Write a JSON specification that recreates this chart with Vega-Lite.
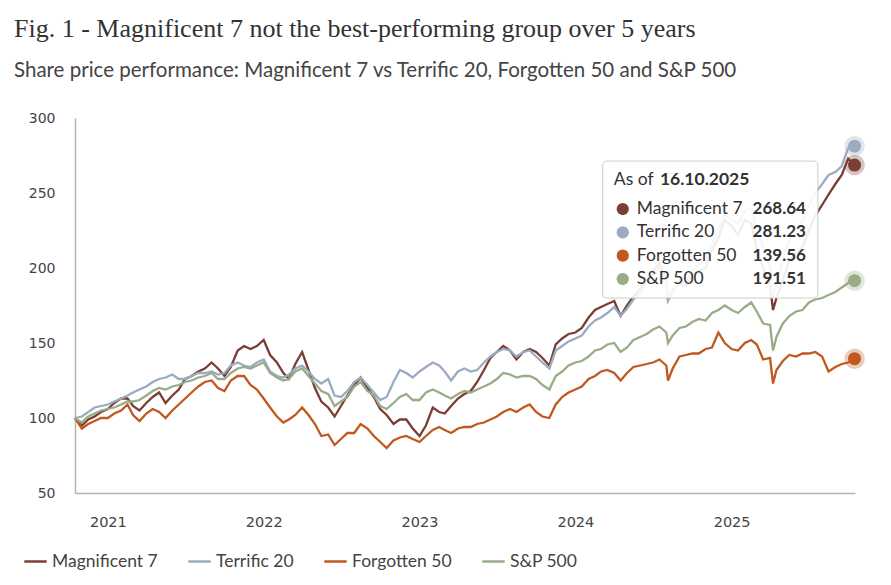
{
  "$schema": "https://vega.github.io/schema/vega-lite/v6.json",
  "width": 780,
  "height": 375,
  "autosize": {"type": "none"},
  "padding": {"left": 75, "top": 118, "right": 36, "bottom": 92},
  "background": "white",
  "config": {"view": {"stroke": null}},
  "title": {
    "text": "Fig. 1 - Magnificent 7 not the best-performing group over 5 years",
    "subtitle": "Share price performance: Magnificent 7 vs Terrific 20, Forgotten 50 and S&P 500",
    "anchor": "start",
    "frame": "group",
    "dx": -61,
    "offset": 30,
    "font": "Liberation Serif",
    "fontSize": 26,
    "fontWeight": "normal",
    "color": "#333333",
    "subtitleFont": "Lato",
    "subtitleFontSize": 20.5,
    "subtitleColor": "#444444",
    "subtitlePadding": 19
  },
  "datasets": {
    "series": [
      {"d":"2020-10-16","m":100,"t":100,"f":100,"s":100},
      {"d":"2020-11-01","m":95,"t":101,"f":93,"s":97},
      {"d":"2020-11-16","m":99,"t":104,"f":96,"s":101},
      {"d":"2020-12-01","m":101,"t":107,"f":98,"s":103},
      {"d":"2020-12-16","m":104,"t":108,"f":100,"s":105},
      {"d":"2021-01-01","m":106,"t":109,"f":100,"s":106},
      {"d":"2021-01-16","m":110,"t":111,"f":103,"s":107},
      {"d":"2021-02-01","m":113,"t":113,"f":105,"s":109},
      {"d":"2021-02-16","m":113,"t":115,"f":109,"s":111},
      {"d":"2021-03-01","m":108,"t":117,"f":102,"s":111},
      {"d":"2021-03-16","m":105,"t":119,"f":98,"s":112},
      {"d":"2021-04-01","m":110,"t":121,"f":103,"s":115},
      {"d":"2021-04-16","m":114,"t":124,"f":106,"s":118},
      {"d":"2021-05-01","m":117,"t":126,"f":104,"s":120},
      {"d":"2021-05-16","m":110,"t":127,"f":100,"s":119},
      {"d":"2021-06-01","m":115,"t":129,"f":105,"s":121},
      {"d":"2021-06-16","m":119,"t":126,"f":109,"s":122},
      {"d":"2021-07-01","m":126,"t":126,"f":113,"s":124},
      {"d":"2021-07-16","m":128,"t":128,"f":117,"s":125},
      {"d":"2021-08-01","m":131,"t":130,"f":121,"s":127},
      {"d":"2021-08-16","m":133,"t":130,"f":124,"s":128},
      {"d":"2021-09-01","m":137,"t":131,"f":125,"s":130},
      {"d":"2021-09-16","m":133,"t":129,"f":120,"s":126},
      {"d":"2021-10-01","m":128,"t":130,"f":118,"s":126},
      {"d":"2021-10-16","m":134,"t":135,"f":125,"s":130},
      {"d":"2021-11-01","m":145,"t":137,"f":128,"s":133},
      {"d":"2021-11-16","m":148,"t":135,"f":128,"s":134},
      {"d":"2021-12-01","m":146,"t":134,"f":122,"s":133},
      {"d":"2021-12-16","m":148,"t":137,"f":119,"s":135},
      {"d":"2022-01-01","m":152,"t":139,"f":113,"s":137},
      {"d":"2022-01-16","m":142,"t":131,"f":107,"s":130},
      {"d":"2022-02-01","m":137,"t":128,"f":101,"s":127},
      {"d":"2022-02-16","m":130,"t":127,"f":97,"s":125},
      {"d":"2022-03-01","m":126,"t":129,"f":99,"s":126},
      {"d":"2022-03-16","m":136,"t":133,"f":102,"s":131},
      {"d":"2022-04-01","m":144,"t":135,"f":107,"s":133},
      {"d":"2022-04-16","m":132,"t":131,"f":102,"s":128},
      {"d":"2022-05-01","m":120,"t":126,"f":96,"s":123},
      {"d":"2022-05-16","m":111,"t":123,"f":88,"s":118},
      {"d":"2022-06-01","m":107,"t":126,"f":89,"s":116},
      {"d":"2022-06-16","m":101,"t":115,"f":82,"s":108},
      {"d":"2022-07-01","m":108,"t":114,"f":86,"s":111},
      {"d":"2022-07-16","m":115,"t":118,"f":90,"s":114},
      {"d":"2022-08-01","m":122,"t":124,"f":90,"s":121},
      {"d":"2022-08-16","m":127,"t":127,"f":96,"s":124},
      {"d":"2022-09-01","m":120,"t":122,"f":93,"s":118},
      {"d":"2022-09-16","m":114,"t":117,"f":88,"s":115},
      {"d":"2022-10-01","m":106,"t":112,"f":84,"s":108},
      {"d":"2022-10-16","m":102,"t":114,"f":80,"s":106},
      {"d":"2022-11-01","m":96,"t":124,"f":85,"s":110},
      {"d":"2022-11-16","m":99,"t":132,"f":87,"s":114},
      {"d":"2022-12-01","m":99,"t":130,"f":88,"s":116},
      {"d":"2022-12-16","m":93,"t":127,"f":86,"s":112},
      {"d":"2023-01-01","m":88,"t":131,"f":84,"s":112},
      {"d":"2023-01-16","m":95,"t":134,"f":88,"s":117},
      {"d":"2023-02-01","m":107,"t":137,"f":92,"s":119},
      {"d":"2023-02-16","m":104,"t":135,"f":94,"s":117},
      {"d":"2023-03-01","m":103,"t":131,"f":92,"s":115},
      {"d":"2023-03-16","m":108,"t":125,"f":90,"s":113},
      {"d":"2023-04-01","m":113,"t":131,"f":93,"s":116},
      {"d":"2023-04-16","m":116,"t":133,"f":94,"s":118},
      {"d":"2023-05-01","m":118,"t":131,"f":94,"s":117},
      {"d":"2023-05-16","m":124,"t":132,"f":96,"s":119},
      {"d":"2023-06-01","m":132,"t":137,"f":97,"s":121},
      {"d":"2023-06-16","m":140,"t":141,"f":99,"s":123},
      {"d":"2023-07-01","m":144,"t":144,"f":101,"s":126},
      {"d":"2023-07-16","m":148,"t":146,"f":104,"s":130},
      {"d":"2023-08-01","m":145,"t":145,"f":106,"s":129},
      {"d":"2023-08-16","m":139,"t":141,"f":104,"s":127},
      {"d":"2023-09-01","m":144,"t":144,"f":107,"s":128},
      {"d":"2023-09-16","m":146,"t":145,"f":109,"s":128},
      {"d":"2023-10-01","m":144,"t":141,"f":104,"s":126},
      {"d":"2023-10-16","m":140,"t":137,"f":101,"s":122},
      {"d":"2023-11-01","m":135,"t":133,"f":100,"s":119},
      {"d":"2023-11-16","m":149,"t":145,"f":109,"s":128},
      {"d":"2023-12-01","m":153,"t":148,"f":114,"s":131},
      {"d":"2023-12-16","m":156,"t":151,"f":117,"s":135},
      {"d":"2024-01-01","m":157,"t":153,"f":119,"s":137},
      {"d":"2024-01-16","m":160,"t":155,"f":121,"s":138},
      {"d":"2024-02-01","m":167,"t":161,"f":126,"s":141},
      {"d":"2024-02-16","m":172,"t":165,"f":128,"s":145},
      {"d":"2024-03-01","m":174,"t":167,"f":131,"s":146},
      {"d":"2024-03-16","m":176,"t":170,"f":132,"s":149},
      {"d":"2024-04-01","m":178,"t":174,"f":130,"s":150},
      {"d":"2024-04-16","m":168,"t":168,"f":125,"s":144},
      {"d":"2024-05-01","m":175,"t":173,"f":130,"s":147},
      {"d":"2024-05-16","m":181,"t":179,"f":134,"s":152},
      {"d":"2024-06-01","m":186,"t":184,"f":135,"s":154},
      {"d":"2024-06-16","m":192,"t":190,"f":136,"s":156},
      {"d":"2024-07-01","m":198,"t":195,"f":137,"s":159},
      {"d":"2024-07-16","m":203,"t":200,"f":139,"s":161},
      {"d":"2024-08-01","m":192,"t":191,"f":135,"s":157},
      {"d":"2024-08-05","m":179,"t":178,"f":125,"s":150},
      {"d":"2024-08-16","m":185,"t":184,"f":133,"s":155},
      {"d":"2024-09-01","m":190,"t":192,"f":141,"s":160},
      {"d":"2024-09-16","m":188,"t":191,"f":142,"s":161},
      {"d":"2024-10-01","m":196,"t":198,"f":143,"s":164},
      {"d":"2024-10-16","m":198,"t":202,"f":143,"s":166},
      {"d":"2024-11-01","m":200,"t":205,"f":146,"s":165},
      {"d":"2024-11-16","m":212,"t":216,"f":147,"s":170},
      {"d":"2024-12-01","m":220,"t":225,"f":157,"s":172},
      {"d":"2024-12-16","m":232,"t":236,"f":150,"s":175},
      {"d":"2025-01-01","m":228,"t":232,"f":146,"s":172},
      {"d":"2025-01-16","m":222,"t":230,"f":145,"s":170},
      {"d":"2025-02-01","m":232,"t":238,"f":150,"s":174},
      {"d":"2025-02-16","m":230,"t":240,"f":152,"s":177},
      {"d":"2025-03-01","m":212,"t":225,"f":149,"s":171},
      {"d":"2025-03-16","m":200,"t":214,"f":139,"s":163},
      {"d":"2025-04-01","m":188,"t":200,"f":140,"s":162},
      {"d":"2025-04-08","m":172,"t":180,"f":123,"s":145},
      {"d":"2025-04-16","m":180,"t":190,"f":132,"s":154},
      {"d":"2025-05-01","m":192,"t":205,"f":138,"s":163},
      {"d":"2025-05-16","m":205,"t":218,"f":142,"s":168},
      {"d":"2025-06-01","m":210,"t":226,"f":141,"s":171},
      {"d":"2025-06-16","m":214,"t":232,"f":143,"s":172},
      {"d":"2025-07-01","m":225,"t":242,"f":143,"s":177},
      {"d":"2025-07-16","m":235,"t":250,"f":144,"s":179},
      {"d":"2025-08-01","m":242,"t":256,"f":141,"s":180},
      {"d":"2025-08-16","m":249,"t":262,"f":131,"s":182},
      {"d":"2025-09-01","m":256,"t":264,"f":134,"s":184},
      {"d":"2025-09-16","m":262,"t":268,"f":136,"s":187},
      {"d":"2025-10-01","m":273,"t":280,"f":137,"s":190},
      {"d":"2025-10-16","m":268.64,"t":281.23,"f":139.56,"s":191.51}
    ],
    "tip": [
      {"k":"m","name":"Magnificent 7","v":"268.64","r":1},
      {"k":"t","name":"Terrific 20","v":"281.23","r":2},
      {"k":"f","name":"Forgotten 50","v":"139.56","r":3},
      {"k":"s","name":"S&P 500","v":"191.51","r":4}
    ]
  },
  "layer": [
    {
      "data": {"name": "series"},
      "transform": [{"fold": ["m", "t", "f", "s"], "as": ["k", "v"]}],
      "layer": [
        {
          "mark": {"type": "line", "strokeWidth": 2.3},
          "encoding": {
            "x": {
              "field": "d", "type": "temporal",
              "scale": {"domain": [{"year": 2020, "month": 10, "date": 16}, {"year": 2025, "month": 10, "date": 17}]},
              "axis": {
                "title": null, "format": "%Y", "tickCount": {"interval": "year", "step": 1},
                "grid": false, "ticks": false, "domainColor": "#b3b3b3", "domainWidth": 1.5,
                "labelFont": "DejaVu Sans", "labelFontSize": 14.5, "labelColor": "#444444", "labelPadding": 22
              }
            },
            "y": {
              "field": "v", "type": "quantitative",
              "scale": {"domain": [50, 300], "nice": false, "zero": false},
              "axis": {
                "title": null, "values": [50, 100, 150, 200, 250, 300],
                "grid": false, "ticks": false, "domainColor": "#b3b3b3", "domainWidth": 1.5,
                "labelFont": "DejaVu Sans", "labelFontSize": 14, "labelColor": "#444444", "labelPadding": 20
              }
            },
            "color": {
              "field": "k", "type": "nominal",
              "scale": {"domain": ["m", "t", "f", "s"], "range": ["#7a3e34", "#9aabc2", "#c0581f", "#98ad87"]},
              "legend": {
                "orient": "none", "legendX": -52, "legendY": 431, "direction": "horizontal",
                "title": null, "symbolType": "stroke", "symbolSize": 500, "symbolStrokeWidth": 2.5,
                "labelFont": "Lato", "labelFontSize": 17.5, "labelColor": "#444444",
                "columnPadding": 25, "labelOffset": 4, "padding": 0,
                "labelExpr": "datum.label == 'm' ? 'Magnificent 7' : datum.label == 't' ? 'Terrific 20' : datum.label == 'f' ? 'Forgotten 50' : 'S&P 500'"
              }
            }
          }
        },
        {
          "transform": [{"filter": "datum.m == 268.64"}],
          "mark": {"type": "point", "filled": true, "size": 420, "opacity": 0.3, "shape": "circle"},
          "encoding": {
            "x": {"field": "d", "type": "temporal"},
            "y": {"field": "v", "type": "quantitative"},
            "fill": {"field": "k", "type": "nominal", "scale": {"domain": ["m", "t", "f", "s"], "range": ["#7a3e34", "#9aabc2", "#c0581f", "#98ad87"]}, "legend": null}
          }
        },
        {
          "transform": [{"filter": "datum.m == 268.64"}],
          "mark": {"type": "point", "filled": true, "size": 170, "opacity": 1, "shape": "circle"},
          "encoding": {
            "x": {"field": "d", "type": "temporal"},
            "y": {"field": "v", "type": "quantitative"},
            "fill": {"field": "k", "type": "nominal", "legend": null}
          }
        },
        {
          "data": {"values": [{"box": 1}]},
          "mark": {"type": "rect", "fill": "white", "fillOpacity": 0.9, "stroke": "#cccccc", "strokeWidth": 1, "cornerRadius": 4},
          "encoding": {
            "x": {"datum": {"year": 2024, "month": 3, "date": 5}, "type": "temporal"},
            "x2": {"datum": {"year": 2025, "month": 7, "date": 22}},
            "y": {"datum": 271.3, "type": "quantitative"},
            "y2": {"datum": 180}
          }
        },
        {
          "data": {"values": [{"label": "As of"}]},
          "mark": {"type": "text", "align": "left", "baseline": "middle", "font": "Lato", "fontSize": 17.5, "color": "#333333"},
          "encoding": {
            "x": {"datum": {"year": 2024, "month": 3, "date": 31}, "type": "temporal"},
            "y": {"datum": 258.7, "type": "quantitative"},
            "text": {"field": "label"}
          }
        },
        {
          "data": {"values": [{"label": "16.10.2025"}]},
          "mark": {"type": "text", "align": "left", "baseline": "middle", "font": "Lato", "fontSize": 17.5, "fontWeight": "bold", "color": "#333333"},
          "encoding": {
            "x": {"datum": {"year": 2024, "month": 7, "date": 17}, "type": "temporal"},
            "y": {"datum": 258.7, "type": "quantitative"},
            "text": {"field": "label"}
          }
        }
      ]
    },
    {
      "data": {"name": "tip"},
      "encoding": {
        "y": {"field": "r", "type": "quantitative", "scale": {"domain": [-2.9, 13.17], "reverse": true, "nice": false, "zero": false}, "axis": null}
      },
      "layer": [
        {
          "mark": {"type": "point", "filled": true, "size": 150, "opacity": 1, "shape": "circle"},
          "encoding": {
            "x": {"datum": {"year": 2024, "month": 4, "date": 21}, "type": "temporal"},
            "fill": {"field": "k", "type": "nominal", "legend": null}
          }
        },
        {
          "mark": {"type": "text", "align": "left", "baseline": "middle", "font": "Lato", "fontSize": 17.5, "color": "#333333"},
          "encoding": {
            "x": {"datum": {"year": 2024, "month": 5, "date": 24}, "type": "temporal"},
            "text": {"field": "name"}
          }
        },
        {
          "mark": {"type": "text", "align": "right", "baseline": "middle", "font": "Lato", "fontSize": 17, "fontWeight": "bold", "color": "#333333"},
          "encoding": {
            "x": {"datum": {"year": 2025, "month": 6, "date": 24}, "type": "temporal"},
            "text": {"field": "v"}
          }
        }
      ]
    }
  ],
  "resolve": {"scale": {"y": "independent"}}
}
